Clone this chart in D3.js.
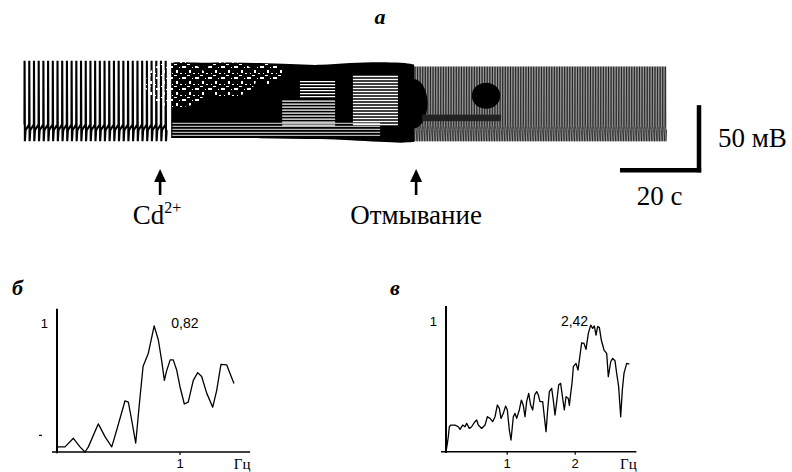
<!DOCTYPE html>
<html><head><meta charset="utf-8">
<script src="https://cdn.jsdelivr.net/npm/d3@7"></script>
<style>body{margin:0;background:#fff} svg{display:block}</style>
</head><body>
<svg id="c" width="792" height="472"></svg>
<script>
// ================= DATA =================
// recording epochs (time in s, potential in mV)
const epochStart = [0.4, 98.6];
const epochEnd   = [37.3, 163];
const epochRate  = [0.84, 2.42];   // Hz (spike frequency)
const epochPeak  = [-4, -8.5];
const epochPre   = [-53, -54];
const epochAhp   = [-66, -66];
const epochRest  = [-57.5, -57];

// Cd2+ block: envelope of the recording
const cdTime   = [37.5, 39.7, 44.8, 52.4, 60, 67.6, 75.2, 82.8, 90.4, 96, 99];
const cdTop    = [-5.5, -5, -5.8, -5.2, -5.8, -6.5, -7.8, -5.5, -5, -5.5, -7];
const cdBottom = [-63.5, -63.5, -63.5, -63.5, -63.5, -64, -64.2, -65, -66.5, -67.3, -66.5];
const cdBandTop = -51;             // upper level of plateau stripes
// noisy (speckled) areas
const speckT = [39, 52, 62];
const speckV = [-22, -18, -14];
const speckRt = [8, 7, 4];
const speckRv = [18, 14, 8];
// plateau (striped) patches
const patchT0 = [65.6, 70.1, 83.5];
const patchT1 = [79, 79, 94.9];
const patchVTop = [-34, -19, -15];
const patchVBot = [-55, -34, -54];
// dark blobs after washout onset
const blobT  = [98.8, 117.2];
const blobV  = [-37, -31];
const blobRt = [3.6, 3.6];
const blobRv = [19, 10];
const bandT = [101, 121];
const bandV = [-45.5, -50.5];

// events
const eventTime = [34.7, 99.5];
const eventLabel = ["Cd", "Отмывание"];

// scale bars
const barT = 20, barV = 50;
const barCornerT = 171.1, barCornerV = -88.2;

// spectra
const freqB = [0, 0.01, 0.065, 0.133, 0.187, 0.228, 0.255, 0.336, 0.39, 0.445, 0.485, 0.553, 0.58, 0.607, 0.64, 0.675, 0.70, 0.742, 0.79, 0.824, 0.85, 0.873, 0.89, 0.92, 0.945, 0.973, 1.0, 1.035, 1.067, 1.108, 1.144, 1.176, 1.217, 1.266, 1.298, 1.333, 1.38, 1.406, 1.439];
const powB  = [0.03, 0.04, 0.04, 0.107, 0.04, 0.0, 0.04, 0.22, 0.12, 0.04, 0.17, 0.40, 0.39, 0.25, 0.07, 0.43, 0.67, 0.77, 0.985, 0.875, 0.72, 0.56, 0.63, 0.72, 0.72, 0.64, 0.51, 0.375, 0.39, 0.56, 0.62, 0.59, 0.46, 0.35, 0.48, 0.685, 0.68, 0.615, 0.535];
const freqV = [0.1, 0.12, 0.134, 0.149, 0.169, 0.232, 0.281, 0.306, 0.345, 0.379, 0.404, 0.443, 0.477, 0.526, 0.551, 0.575, 0.624, 0.674, 0.708, 0.747, 0.786, 0.821, 0.855, 0.884, 0.909, 0.943, 0.977, 1.002, 1.031, 1.056, 1.09, 1.115, 1.139, 1.178, 1.208, 1.237, 1.262, 1.286, 1.316, 1.345, 1.375, 1.404, 1.433, 1.458, 1.482, 1.522, 1.546, 1.571, 1.595, 1.62, 1.654, 1.678, 1.703, 1.728, 1.757, 1.786, 1.816, 1.84, 1.865, 1.899, 1.914, 1.934, 1.953, 1.973, 2.012, 2.041, 2.061, 2.095, 2.129, 2.159, 2.193, 2.228, 2.257, 2.281, 2.306, 2.33, 2.355, 2.384, 2.424, 2.463, 2.487, 2.522, 2.551, 2.585, 2.61, 2.639, 2.669, 2.693, 2.718, 2.757, 2.796];
const powV  = [0.0, 0.064, 0.115, 0.192, 0.205, 0.205, 0.192, 0.172, 0.205, 0.192, 0.218, 0.179, 0.192, 0.231, 0.244, 0.205, 0.179, 0.205, 0.269, 0.256, 0.231, 0.269, 0.359, 0.333, 0.256, 0.295, 0.351, 0.321, 0.167, 0.09, 0.269, 0.295, 0.256, 0.321, 0.397, 0.356, 0.269, 0.385, 0.449, 0.359, 0.321, 0.436, 0.462, 0.436, 0.385, 0.385, 0.269, 0.154, 0.321, 0.462, 0.487, 0.397, 0.282, 0.385, 0.513, 0.526, 0.41, 0.321, 0.423, 0.41, 0.356, 0.449, 0.526, 0.654, 0.679, 0.628, 0.705, 0.838, 0.833, 0.787, 0.91, 0.974, 0.949, 0.967, 0.897, 0.962, 0.956, 0.859, 0.782, 0.756, 0.577, 0.692, 0.718, 0.70, 0.603, 0.5, 0.269, 0.474, 0.605, 0.679, 0.674];
const peakLabels = ["0,82", "2,42"];
const xTicksB = [1];
const xTicksV = [1, 2];

// ================= DRAW =================
const svg = d3.select("#c");
const serif = "'Liberation Serif','Times New Roman',serif";
const sans = "'Liberation Sans',Arial,sans-serif";

const xT = d3.scaleLinear().domain([0, 163]).range([23, 667]);
const yV = d3.scaleLinear().domain([-70, -5]).range([146.5, 62]);

// title
svg.append("text").attr("x", 380).attr("y", 24).attr("text-anchor", "middle")
  .attr("font-family", serif).attr("font-weight", "bold").attr("font-style", "italic")
  .attr("font-size", 22).text("а");

// spike trains
const line = d3.line().x(d => xT(d[0])).y(d => yV(d[1]));
epochStart.forEach((s, i) => {
  const times = d3.range(s, epochEnd[i], 1 / epochRate[i]);
  const pts = [];
  times.forEach(t => {
    pts.push([t - 0.03, epochPre[i]]);
    pts.push([t, epochPeak[i]]);
    pts.push([t + 0.08, epochAhp[i]]);
    pts.push([t + 0.25, epochRest[i]]);
  });
  svg.append("path").attr("d", line(pts)).attr("fill", "none").attr("stroke", "#000")
    .attr("stroke-width", i === 0 ? 2.1 : 0.65);
});

// Cd2+ block area
const area = d3.area().x((d, i) => xT(cdTime[i])).y0((d, i) => yV(cdBottom[i])).y1((d, i) => yV(cdTop[i]))
  .curve(d3.curveBasis);
svg.append("path").attr("d", area(cdTime)).attr("fill", "#000");

// speckle pattern (sparse, irregular)
const defs = svg.append("defs");
const pat = defs.append("pattern").attr("id", "speck").attr("patternUnits", "userSpaceOnUse")
  .attr("width", 13).attr("height", 11);
[[0, 0, 4, 2], [7, 4, 2, 3], [3, 7, 1, 1], [10, 1, 1, 1], [5, 9, 3, 1], [11, 7, 2, 1]].forEach(r => {
  pat.append("rect").attr("x", r[0]).attr("y", r[1]).attr("width", r[2]).attr("height", r[3]).attr("fill", "#fff");
});
speckT.forEach((t, i) => {
  svg.append("ellipse").attr("cx", xT(t)).attr("cy", yV(speckV[i]))
    .attr("rx", xT(t + speckRt[i]) - xT(t)).attr("ry", yV(speckV[i] - speckRv[i]) - yV(speckV[i]))
    .attr("fill", "url(#speck)");
});

// stripes helper
function stripes(t0, t1, vTop, vBot, w) {
  const yTop = yV(vTop), yBot = yV(vBot);
  d3.range(yTop + 1.5, yBot, 3).forEach(y => {
    svg.append("line").attr("x1", xT(t0)).attr("x2", xT(t1)).attr("y1", y).attr("y2", y)
      .attr("stroke", "#fff").attr("stroke-width", w);
  });
}
patchT0.forEach((t0, i) => stripes(t0, patchT1[i], patchVTop[i], patchVBot[i], 1.3));
stripes(cdTime[0] + 0.3, cdTime[cdTime.length - 3], cdBandTop, cdBottom[0] + 1, 0.9);

// blobs
blobT.forEach((t, i) => {
  svg.append("ellipse").attr("cx", xT(t)).attr("cy", yV(blobV[i]))
    .attr("rx", xT(t + blobRt[i]) - xT(t)).attr("ry", yV(blobV[i] - blobRv[i]) - yV(blobV[i]))
    .attr("fill", "#000");
});
svg.append("rect").attr("x", xT(bandT[0])).attr("y", yV(bandV[0]))
  .attr("width", xT(bandT[1]) - xT(bandT[0])).attr("height", yV(bandV[1]) - yV(bandV[0]))
  .attr("fill", "#222");

// event arrows
eventTime.forEach((t, i) => {
  const x = xT(t);
  svg.append("path").attr("d", `M${x},169 L${x + 6},182 L${x - 6},182 Z`).attr("fill", "#000");
  svg.append("rect").attr("x", x - 1.3).attr("y", 181).attr("width", 2.6).attr("height", 14).attr("fill", "#000");
  const tx = svg.append("text").attr("x", x + (i === 0 ? -3 : 0)).attr("y", 224).attr("text-anchor", "middle")
    .attr("font-family", serif).attr("font-size", 27).text(eventLabel[i]);
  if (i === 0) tx.append("tspan").attr("dy", -11).attr("font-size", 16).text("2+");
});

// scale bars
const cx = xT(barCornerT), cy = yV(barCornerV);
svg.append("line").attr("x1", xT(barCornerT - barT)).attr("x2", cx + 2.2).attr("y1", cy).attr("y2", cy)
  .attr("stroke", "#000").attr("stroke-width", 4.5);
svg.append("line").attr("x1", cx).attr("x2", cx).attr("y1", cy + 2.2).attr("y2", yV(barCornerV + barV))
  .attr("stroke", "#000").attr("stroke-width", 4.5);
svg.append("text").attr("x", cx + 19).attr("y", (cy + yV(barCornerV + barV)) / 2 + 9)
  .attr("font-family", serif).attr("font-size", 27).text("50 мВ");
svg.append("text").attr("x", (xT(barCornerT - barT) + cx) / 2).attr("y", cy + 35).attr("text-anchor", "middle")
  .attr("font-family", serif).attr("font-size", 27).text("20 с");

// ---------- spectra ----------
function spectrum(opts) {
  const { label, lx, x, y, freq, pow, ticks, peakLabel, peakF, fStart, fEnd } = opts;
  const g = svg.append("g");
  g.append("text").attr("x", lx).attr("y", 295).attr("font-family", serif).attr("font-weight", "bold")
    .attr("font-style", "italic").attr("font-size", 22).text(label);
  g.append("line").attr("x1", x(fStart)).attr("x2", x(fStart)).attr("y1", y(-0.01)).attr("y2", y(1.12))
    .attr("stroke", "#000").attr("stroke-width", 2);
  g.append("line").attr("x1", x(fStart) - 5).attr("x2", x(fEnd)).attr("y1", y(0)).attr("y2", y(0))
    .attr("stroke", "#000").attr("stroke-width", 1.5);
  ticks.forEach(f => {
    g.append("line").attr("x1", x(f)).attr("x2", x(f)).attr("y1", y(0)).attr("y2", y(0) + 3)
      .attr("stroke", "#000").attr("stroke-width", 1.2);
    g.append("text").attr("x", x(f)).attr("y", y(0) + 16).attr("text-anchor", "middle")
      .attr("font-family", sans).attr("font-size", 13).text(f);
  });
  g.append("text").attr("x", x(fEnd) - 8).attr("y", y(0) + 17).attr("text-anchor", "middle")
    .attr("font-family", serif).attr("font-size", 15).text("Гц");
  g.append("text").attr("x", x(fStart) - 9).attr("y", y(1) + 4).attr("text-anchor", "end")
    .attr("font-family", sans).attr("font-size", 13).text("1");
  g.append("path").attr("d", d3.line().x((d, i) => x(freq[i])).y((d, i) => y(pow[i]))(freq))
    .attr("fill", "none").attr("stroke", "#000").attr("stroke-width", 1.3).attr("stroke-linejoin", "round");
  g.append("text").attr("x", x(peakF)).attr("y", y(1) + 4).attr("text-anchor", "middle")
    .attr("font-family", sans).attr("font-size", 14).text(peakLabel);
  return g;
}

const xB = d3.scaleLinear().domain([0, 1]).range([57, 180]);
const yB = d3.scaleLinear().domain([0, 1]).range([452, 324]);
const gB = spectrum({ label: "б", lx: 12, x: xB, y: yB, freq: freqB, pow: powB, ticks: xTicksB,
  peakLabel: peakLabels[0], peakF: 1.04, fStart: 0, fEnd: 1.57 });
gB.append("line").attr("x1", 39).attr("x2", 42).attr("y1", yB(0.13)).attr("y2", yB(0.13))
  .attr("stroke", "#000").attr("stroke-width", 1.2);

const xV = d3.scaleLinear().domain([0, 1]).range([439.2, 507.2]);
const yV2 = d3.scaleLinear().domain([0, 1]).range([451.7, 321.7]);
spectrum({ label: "в", lx: 390, x: xV, y: yV2, freq: freqV, pow: powV, ticks: xTicksV,
  peakLabel: peakLabels[1], peakF: 1.99, fStart: 0.1, fEnd: 2.9 });
</script>
</body></html>
